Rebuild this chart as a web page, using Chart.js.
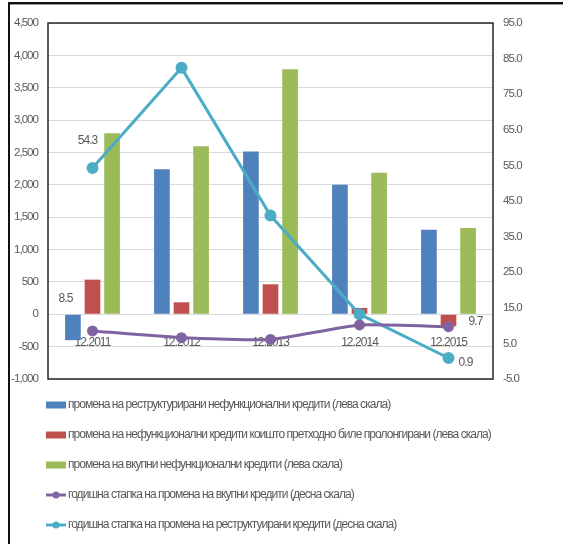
<!DOCTYPE html>
<html>
<head>
<meta charset="utf-8">
<script src="https://cdn.jsdelivr.net/npm/chart.js@4"></script>
<style>
  html, body { margin: 0; padding: 0; background: #fff; }
  canvas { display: block; }
</style>
</head>
<body>
<canvas id="npl-canvas" width="563" height="544"></canvas>
<script>
// Податоци
const categories = ['12.2011', '12.2012', '12.2013', '12.2014', '12.2015'];
const restructuredNpl = [-400, 2240, 2515, 2000, 1307];
const prolongedNpl = [535, 185, 463, 98, -185];
const totalNpl = [2795, 2597, 3786, 2187, 1332];
const totalCreditsRate = [8.5, 6.6, 6.1, 10.2, 9.7];
const restructuredCreditsRate = [54.3, 82.4, 40.9, 13.2, 0.9];
const leftTicks = [-1000, 4500, 500];
const rightTicks = [-5, 95, 10];

const seriesNames = [
  'промена на реструктурирани нефункционални кредити (лева скала)',
  'промена на нефункционални кредити коишто претходно биле пролонгирани (лева скала)',
  'промена на вкупни нефункционални кредити (лева скала)',
  'годишна стапка на промена на вкупни кредити (десна скала)',
  'годишна стапка на промена на реструктуирани кредити (десна скала)'
];

const FONT = '"Liberation Sans", Arial, sans-serif';
const TEXT = '#595959';

// тесен фонт: збиј ги буквите да личи на оригиналот
const probe = document.createElement('canvas').getContext('2d');
probe.font = '12px ' + FONT;
const natural = probe.measureText(seriesNames[0]).width;
const SPACING = Math.min(0, (322 - natural) / seriesNames[0].length);

// рамка, легенда и ознаки на податоците
const decorPlugin = {
  id: 'decor',
  beforeDraw(chart) {
    chart.ctx.letterSpacing = SPACING.toFixed(2) + 'px';
  },
  afterDatasetsDraw(chart) {
    const ctx = chart.ctx;
    const a = chart.chartArea;
    ctx.save();
    // рамка околу графикот
    ctx.strokeStyle = '#262626';
    ctx.lineWidth = 1.5;
    ctx.strokeRect(a.left, a.top, a.right - a.left, a.bottom - a.top);

    // ознаки за првата и последната точка
    ctx.fillStyle = TEXT;
    ctx.font = '12px ' + FONT;
    ctx.textAlign = 'center';
    ctx.textBaseline = 'middle';
    const purple = chart.getDatasetMeta(3).data;
    const teal = chart.getDatasetMeta(4).data;
    const last = categories.length - 1;
    ctx.fillText(restructuredCreditsRate[0].toFixed(1), teal[0].x - 5, teal[0].y - 27);
    ctx.fillText(totalCreditsRate[0].toFixed(1), purple[0].x - 27, purple[0].y - 32);
    ctx.fillText(totalCreditsRate[last].toFixed(1), purple[last].x + 27, purple[last].y - 5);
    ctx.fillText(restructuredCreditsRate[last].toFixed(1), teal[last].x + 17, teal[last].y + 5);
    ctx.restore();
  },
  afterDraw(chart) {
    const ctx = chart.ctx;
    ctx.save();
    // надворешна рамка
    ctx.fillStyle = '#111';
    ctx.fillRect(8, 2, 2, chart.height - 2);
    ctx.fillRect(8, 2, chart.width - 8, 2);
    ctx.fillStyle = '#999';
    ctx.fillRect(10, 4, chart.width - 10, 1);

    // легенда
    ctx.font = '12px ' + FONT;
    ctx.textAlign = 'left';
    ctx.textBaseline = 'middle';
    chart.data.datasets.forEach((ds, i) => {
      const y = 405 + i * 30;
      if (ds.type === 'line') {
        ctx.strokeStyle = ds.borderColor;
        ctx.lineWidth = 3;
        ctx.beginPath();
        ctx.moveTo(46, y);
        ctx.lineTo(66, y);
        ctx.stroke();
        ctx.fillStyle = ds.borderColor;
        ctx.beginPath();
        ctx.arc(56, y, 3.5, 0, Math.PI * 2);
        ctx.fill();
      } else {
        ctx.fillStyle = ds.backgroundColor;
        ctx.fillRect(46, y - 3.5, 20, 7);
      }
      ctx.fillStyle = TEXT;
      ctx.fillText(ds.label, 68, y);
    });
    ctx.restore();
  }
};

const config = {
  data: {
    labels: categories,
    datasets: [
      { type: 'bar', label: seriesNames[0], data: restructuredNpl, backgroundColor: '#4f81bd', yAxisID: 'y', order: 1 },
      { type: 'bar', label: seriesNames[1], data: prolongedNpl, backgroundColor: '#c0504d', yAxisID: 'y', order: 1 },
      { type: 'bar', label: seriesNames[2], data: totalNpl, backgroundColor: '#9bbb59', yAxisID: 'y', order: 1 },
      {
        type: 'line', label: seriesNames[3], data: totalCreditsRate, yAxisID: 'y1', order: 0,
        borderColor: '#8064a2', backgroundColor: '#8064a2', borderWidth: 3,
        pointRadius: 4, pointBackgroundColor: '#8064a2', tension: 0.15
      },
      {
        type: 'line', label: seriesNames[4], data: restructuredCreditsRate, yAxisID: 'y1', order: 0,
        borderColor: '#4bacc6', backgroundColor: '#4bacc6', borderWidth: 3,
        pointRadius: 4.5, pointBackgroundColor: '#4bacc6', tension: 0
      }
    ]
  },
  options: {
    responsive: false,
    animation: false,
    datasets: {
      bar: { categoryPercentage: 0.66, barPercentage: 0.8 }
    },
    layout: { padding: { top: 23, bottom: 165, left: 0, right: 0 } },
    plugins: {
      legend: { display: false },
      tooltip: { enabled: false }
    },
    scales: {
      x: {
        position: { y: 0 },
        grid: { display: false },
        border: { display: false },
        ticks: { color: TEXT, font: { family: FONT, size: 12 }, padding: 13, maxRotation: 0 },
        afterFit(scale) { scale.height = 0; }
      },
      y: {
        position: 'left',
        min: leftTicks[0],
        max: leftTicks[1],
        grid: { color: '#d9d9d9', lineWidth: 1, drawTicks: false },
        border: { display: false },
        ticks: {
          stepSize: leftTicks[2],
          color: TEXT,
          padding: 10,
          font: { family: FONT, size: 11.5 },
          callback: v => v.toLocaleString('en-US')
        },
        afterFit(scale) { scale.width = 48; }
      },
      y1: {
        position: 'right',
        min: rightTicks[0],
        max: rightTicks[1],
        grid: { display: false, drawTicks: false },
        border: { display: false },
        ticks: {
          stepSize: rightTicks[2],
          color: TEXT,
          padding: 10,
          font: { family: FONT, size: 11.5 },
          callback: v => v.toFixed(1)
        },
        afterFit(scale) { scale.width = 70; }
      }
    }
  },
  plugins: [decorPlugin]
};

window.onload = function () {
  const ctx = document.getElementById('npl-canvas').getContext('2d');
  new Chart(ctx, config);
};
</script>
</body>
</html>
